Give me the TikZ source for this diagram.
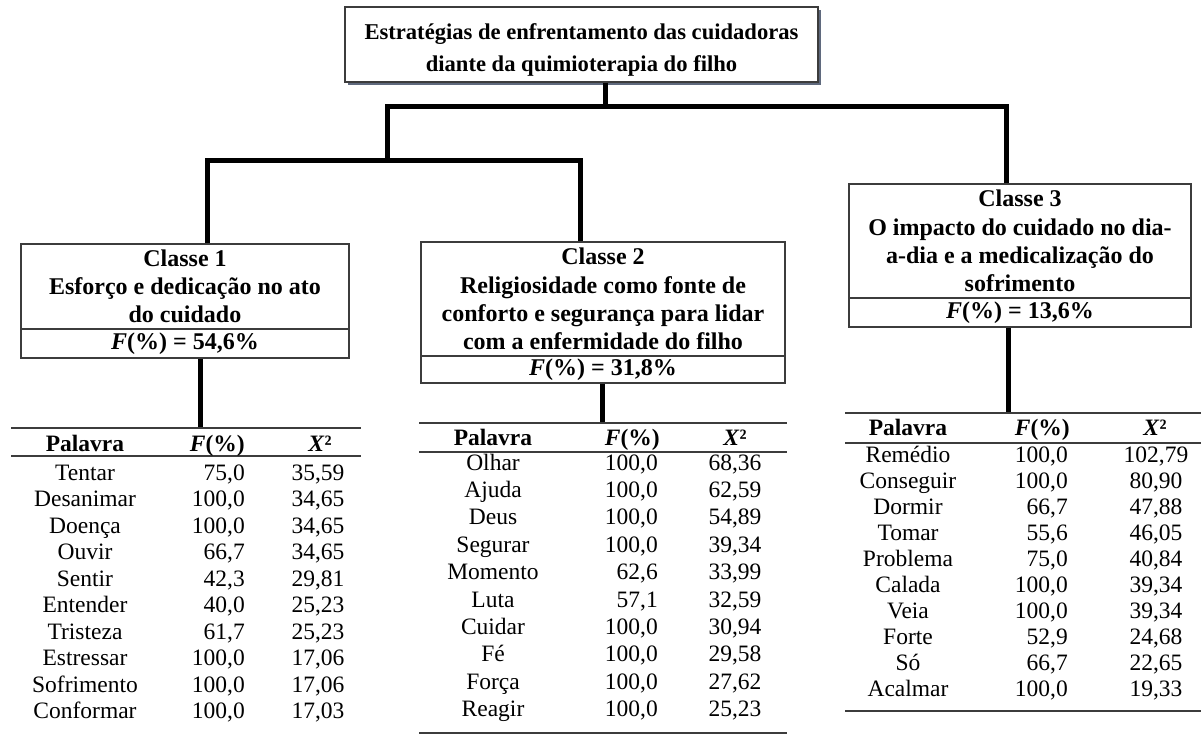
\documentclass[tikz,border=0pt]{standalone}
\usepackage{fontspec}
\setmainfont{Liberation Serif}
\usetikzlibrary{shadows}
\definecolor{shadowc}{RGB}{95,105,125}
\definecolor{rulec}{RGB}{60,60,60}
\begin{document}
\begin{tikzpicture}[x=1pt,y=-1pt,
  box/.style={draw=rulec, line width=1.4pt, fill=white, inner sep=0pt, align=center,
    font=\fontsize{24}{28.3}\selectfont\bfseries},
  topbox/.style={box, font=\fontsize{22.6}{32}\selectfont\bfseries,
    drop shadow={shadow xshift=3pt, shadow yshift=-3pt, fill=shadowc, opacity=1}},
  conn/.style={line width=5pt, line join=miter},
  trule/.style={draw=rulec, line width=1.6pt},
  cell/.style={inner sep=0pt, anchor=base, font=\fontsize{23.5}{26}\selectfont},
  num/.style={cell, anchor=base east},
  head/.style={cell, font=\fontsize{23.5}{26}\selectfont\bfseries}
]
\useasboundingbox (0,0) rectangle (1201,735);

% top box
\node[topbox, minimum width=473pt, minimum height=75pt] (top) at (581.5,44.5)
  {\rule{0pt}{27pt}Estratégias de enfrentamento das cuidadoras\\diante da quimioterapia do filho};

% class boxes
\node[box, minimum width=328pt, minimum height=85pt] (c1) at (185,286.5)
  {Classe 1\\Esforço e dedicação no ato\\do cuidado};
\node[box, minimum width=328pt, minimum height=29pt] (f1) at (185,343.5)
  {\textit{F}(\%) = 54,6\%};
\node[box, minimum width=364pt, minimum height=114pt] (c2) at (603,299)
  {Classe 2\\Religiosidade como fonte de\\conforto e segurança para lidar\\com a enfermidade do filho};
\node[box, minimum width=364pt, minimum height=27pt] (f2) at (603,369.5)
  {\textit{F}(\%) = 31,8\%};
\node[box, minimum width=342pt, minimum height=114pt] (c3) at (1020,241)
  {Classe 3\\O impacto do cuidado no dia-\\a-dia e a medicalização do\\sofrimento};
\node[box, minimum width=342pt, minimum height=29pt] (f3) at (1020,312.5)
  {\textit{F}(\%) = 13,6\%};

% junction coordinates
\coordinate (jm) at (605,107);
\coordinate (jl) at (387,107);
\coordinate (jr) at (1006,107);
\coordinate (kj) at (387,161);
\coordinate (kl) at (207,161);
\coordinate (kr) at (580,161);
\coordinate (t1c) at (200,428);
\coordinate (t2c) at (602,423);
\coordinate (t3c) at (1008,413);

% connectors
\draw[conn] (top.south -| jm) -- (jm);
\draw[conn] (c3.north -| jr) -- (jr) -- (jl) -- (kj);
\draw[conn] (c1.north -| kl) -- (kl) -- (kr) -- (c2.north -| kr);
\draw[conn] (f1.south -| t1c) -- (t1c);
\draw[conn] (f2.south -| t2c) -- (t2c);
\draw[conn] (f3.south -| t3c) -- (t3c);

% table 1
\coordinate (t1a) at (11,428); \coordinate (t1b) at (361,428);
\coordinate (t1d) at (11,456); \coordinate (t1e) at (361,456);
\draw[trule] (t1a) -- (t1b);
\draw[trule] (t1d) -- (t1e);
\node[head] (t1h1) at (85,451) {Palavra};
\node[head, anchor=base east] (t1h2) at (245,451) {\textit{F}(\%)};
\node[head] (t1h3) at (320,451) {\textit{X}²};
\foreach \w/\f/\x [count=\i from 0] in {Tentar/{75,0}/{35,59}, Desanimar/{100,0}/{34,65},
  Doença/{100,0}/{34,65}, Ouvir/{66,7}/{34,65}, Sentir/{42,3}/{29,81},
  Entender/{40,0}/{25,23}, Tristeza/{61,7}/{25,23}, Estressar/{100,0}/{17,06},
  Sofrimento/{100,0}/{17,06}, Conformar/{100,0}/{17,03}}{
  \node[cell] (t1w\i) at (85,480+26.5*\i) {\w};
  \node[num] (t1f\i) at (245,480+26.5*\i) {\f};
  \node[cell] (t1x\i) at (318,480+26.5*\i) {\x};
}

% table 2
\coordinate (t2a) at (419,423); \coordinate (t2b) at (787,423);
\coordinate (t2d) at (419,452); \coordinate (t2e) at (787,452);
\coordinate (t2f) at (419,733); \coordinate (t2g) at (787,733);
\draw[trule] (t2a) -- (t2b);
\draw[trule] (t2d) -- (t2e);
\draw[trule, line width=2.2pt] (t2f) -- (t2g);
\node[head] (t2h1) at (493,445) {Palavra};
\node[head, anchor=base east] (t2h2) at (660,445) {\textit{F}(\%)};
\node[head] (t2h3) at (735,445) {\textit{X}²};
\foreach \w/\f/\x [count=\i from 0] in {Olhar/{100,0}/{68,36}, Ajuda/{100,0}/{62,59},
  Deus/{100,0}/{54,89}, Segurar/{100,0}/{39,34}, Momento/{62,6}/{33,99},
  Luta/{57,1}/{32,59}, Cuidar/{100,0}/{30,94}, Fé/{100,0}/{29,58},
  Força/{100,0}/{27,62}, Reagir/{100,0}/{25,23}}{
  \node[cell] (t2w\i) at (493,470+27.4*\i) {\w};
  \node[num] (t2f\i) at (658,470+27.4*\i) {\f};
  \node[cell] (t2x\i) at (735,470+27.4*\i) {\x};
}

% table 3
\coordinate (t3a) at (845,413); \coordinate (t3b) at (1201,413);
\coordinate (t3d) at (845,443); \coordinate (t3e) at (1201,443);
\coordinate (t3f) at (845,711); \coordinate (t3g) at (1201,711);
\draw[trule] (t3a) -- (t3b);
\draw[trule] (t3d) -- (t3e);
\draw[trule, line width=2.2pt] (t3f) -- (t3g);
\node[head] (t3h1) at (908,435) {Palavra};
\node[head, anchor=base east] (t3h2) at (1070,435) {\textit{F}(\%)};
\node[head] (t3h3) at (1155,435) {\textit{X}²};
\foreach \w/\f/\x [count=\i from 0] in {Remédio/{100,0}/{102,79}, Conseguir/{100,0}/{80,90},
  Dormir/{66,7}/{47,88}, Tomar/{55,6}/{46,05}, Problema/{75,0}/{40,84},
  Calada/{100,0}/{39,34}, Veia/{100,0}/{39,34}, Forte/{52,9}/{24,68},
  Só/{66,7}/{22,65}, Acalmar/{100,0}/{19,33}}{
  \node[cell] (t3w\i) at (908,462+26*\i) {\w};
  \node[num] (t3f\i) at (1068,462+26*\i) {\f};
  \node[cell] (t3x\i) at (1156,462+26*\i) {\x};
}
\end{tikzpicture}
\end{document}
